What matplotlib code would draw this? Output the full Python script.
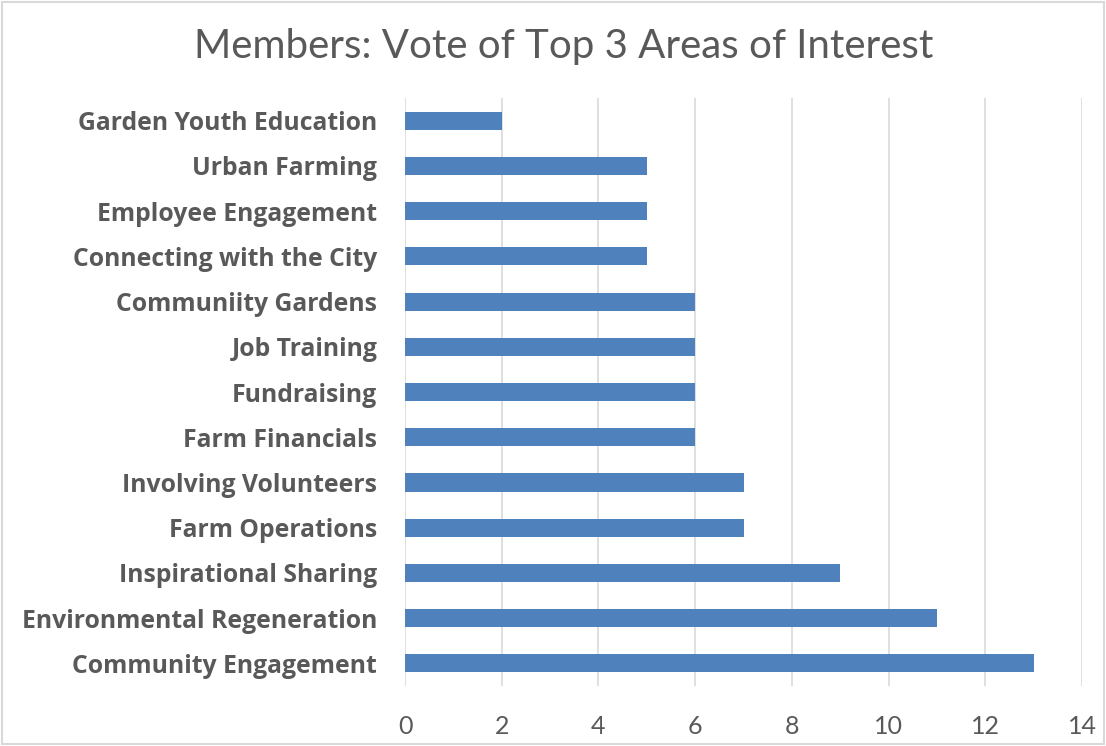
import matplotlib.pyplot as plt
from matplotlib.patches import Rectangle

# Categories listed bottom to top, as drawn on the chart
categories = [
    'Community Engagement',
    'Environmental Regeneration',
    'Inspirational Sharing',
    'Farm Operations',
    'Involving Volunteers',
    'Farm Financials',
    'Fundraising',
    'Job Training',
    'Communiity Gardens',
    'Connecting with the City',
    'Employee Engagement',
    'Urban Farming',
    'Garden Youth Education',
]
votes = [13, 11, 9, 7, 7, 6, 6, 6, 6, 5, 5, 5, 2]
x_ticks = [0, 2, 4, 6, 8, 10, 12, 14]

text_color = '#595959'
bar_color = '#4F81BD'
grid_color = '#D9D9D9'

plt.rcParams['font.family'] = ['Lato', 'DejaVu Sans']

fig = plt.figure(figsize=(11.06, 7.46), dpi=100)
ax = fig.add_axes([0.3662, 0.0804, 0.6121, 0.7882])

ax.barh(range(len(categories)), votes, height=0.4, color=bar_color, zorder=3)

ax.set_xlim(0, 14)
ax.set_ylim(-0.5, len(categories) - 0.5)
ax.set_xticks(x_ticks)
ax.set_xticklabels([str(t) for t in x_ticks], fontsize=18, color=text_color)
ax.set_yticks(range(len(categories)))
ax.set_yticklabels(categories, fontsize=17.8, fontweight='bold', color=text_color,
                   family=['Open Sans', 'DejaVu Sans'])

ax.tick_params(axis='y', length=0, pad=20)
ax.tick_params(axis='x', length=0, pad=21)
ax.grid(axis='x', color=grid_color, linewidth=1.2, zorder=0)
for s in ax.spines.values():
    s.set_visible(False)

fig.text(0.5095, 0.937, 'Members: Vote of Top 3 Areas of Interest',
         ha='center', va='center', fontsize=29, color=text_color)

# light chart border
fig.patches.append(Rectangle((0.002, 0.003), 0.996, 0.994, transform=fig.transFigure,
                             fill=False, edgecolor='#D9D9D9', linewidth=1.5))

fig.savefig('out.png', dpi=100)
